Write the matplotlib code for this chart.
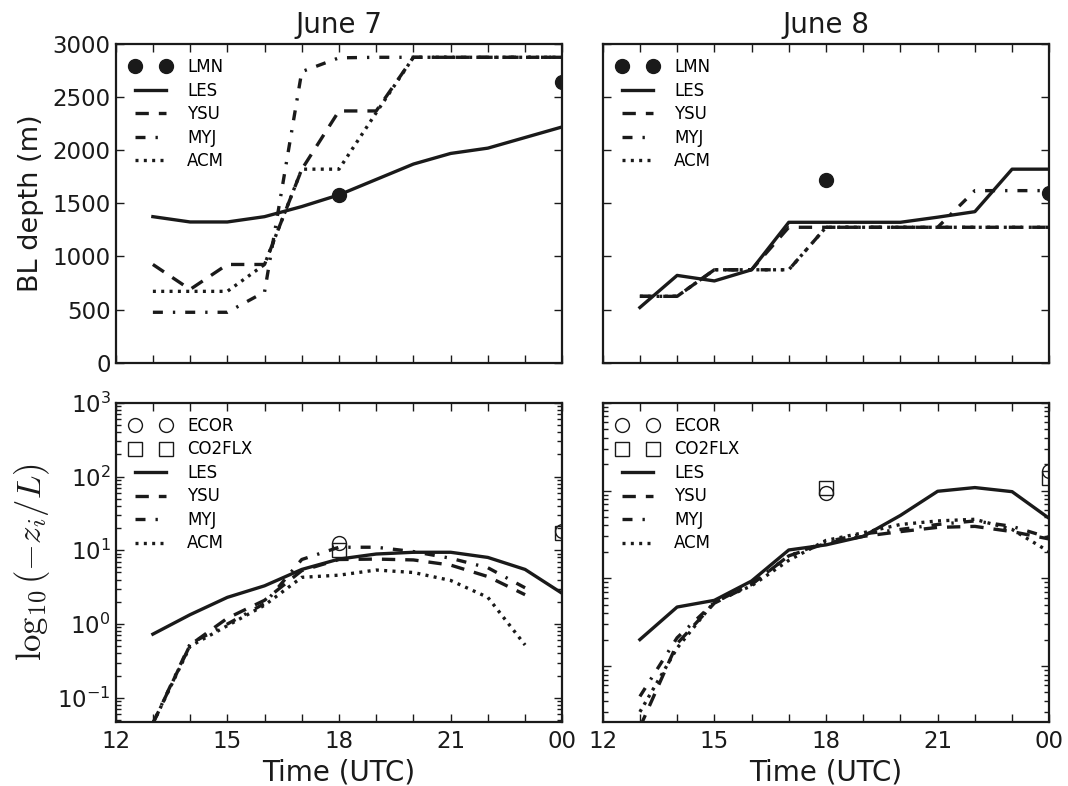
import numpy as np
import matplotlib
matplotlib.use('Agg')
import matplotlib.pyplot as plt
from matplotlib.ticker import LogLocator, NullFormatter

plt.rcParams['mathtext.fontset'] = 'cm'
plt.rcParams['axes.unicode_minus'] = False

hours = [13, 14, 15, 16, 17, 18, 19, 20, 21, 22, 23, 24]
obs_hours = [18, 24]
xtick_labels = ['12', '', '', '15', '', '', '18', '', '', '21', '', '', '00']

# boundary layer depth (m)
lmn7 = [1580, 2640]
les7_bl = [1375, 1325, 1325, 1375, 1470, 1580, 1725, 1870, 1970, 2020, 2120, 2220]
ysu7_bl = [925, 690, 925, 925, 1820, 2370, 2370, 2875, 2875, 2875, 2875, 2875]
myj7_bl = [475, 475, 475, 666, 2740, 2870, 2875, 2875, 2875, 2875, 2875, 2875]
acm7_bl = [672, 672, 672, 925, 1822, 1822, 2353, 2875, 2875, 2875, 2875, 2875]

lmn8 = [1720, 1600]
les8_bl = [520, 822, 770, 875, 1322, 1322, 1322, 1322, 1370, 1422, 1822, 1822]
ysu8_bl = [625, 625, 875, 875, 1275, 1275, 1275, 1275, 1275, 1275, 1275, 1275]
myj8_bl = [625, 625, 875, 875, 875, 1275, 1275, 1275, 1275, 1620, 1620, 1620]
acm8_bl = [625, 625, 875, 875, 875, 1275, 1275, 1275, 1275, 1275, 1275, 1275]

# -z_i/L
ecor7 = [12.6, 18.5]
co2flx7 = [10.2, 17.0]
les7_zl = [0.73, 1.34, 2.3, 3.3, 5.5, 7.6, 8.9, 9.4, 9.4, 8.0, 5.5, 2.6]
ysu7_zl = [0.045, 0.52, 1.2, 2.1, 5.3, 7.5, 7.6, 7.4, 6.3, 4.4, 2.5, np.nan]
myj7_zl = [0.045, 0.54, 1.0, 1.9, 7.5, 11.0, 11.0, 9.6, 7.8, 5.8, 3.1, np.nan]
acm7_zl = [0.045, 0.5, 0.95, 1.8, 4.3, 4.6, 5.4, 5.0, 3.9, 2.3, 0.52, np.nan]

ecor8 = [94, 166]
co2flx8 = [108, 140]
les8_zl = [2.0, 4.7, 5.6, 9.3, 21, 24, 30, 52, 98, 108, 97, 48]
ysu8_zl = [0.2, 1.8, 5.2, 8.5, 18, 25, 30, 34, 38, 39, 34, 28]
myj8_zl = [0.45, 2.1, 5.3, 8.6, 18, 26, 32, 36, 41, 45, 39, 29]
acm8_zl = [0.3, 1.6, 5.4, 8.2, 16, 27, 33, 41, 45, 47, 36, 20]

ink = '#1a1a1a'
lw = 2.4
styles = {'LES': '-', 'YSU': (0, (4, 3)), 'MYJ': (0, (3, 3, 0.7, 3)), 'ACM': (0, (0.9, 1.6))}

fig = plt.figure(figsize=(10.68, 7.86), dpi=100)
L1, L2, W = 0.1083, 0.5643, 0.4182
ax_tl = fig.add_axes([L1, 0.5385, W, 0.4055])
ax_tr = fig.add_axes([L2, 0.5385, W, 0.4055])
ax_bl = fig.add_axes([L1, 0.0814, W, 0.4062])
ax_br = fig.add_axes([L2, 0.0814, W, 0.4062])


def style_axes(ax):
    for s in ax.spines.values():
        s.set_linewidth(1.6)
        s.set_color(ink)
    ax.tick_params(which='both', direction='in', top=True, right=True,
                   colors=ink, labelsize=16.5, width=1.0)
    ax.tick_params(which='major', length=6)
    ax.tick_params(which='minor', length=3.5)
    ax.tick_params(axis='x', pad=6)
    ax.set_xlim(12, 24)
    ax.set_xticks(range(12, 25))
    ax.set_xticklabels(xtick_labels)


def draw_models(ax, series):
    for name, vals in series:
        ax.plot(hours, vals, color=ink, lw=lw, linestyle=styles[name], label=name)


leg_kw = dict(loc='upper left', frameon=False, numpoints=2, fontsize=12,
              handlelength=2.45, labelspacing=0.33, handletextpad=1.0,
              borderaxespad=0.45)

# top row: BL depth
for ax, lmn, series in [
        (ax_tl, lmn7, [('LES', les7_bl), ('YSU', ysu7_bl), ('MYJ', myj7_bl), ('ACM', acm7_bl)]),
        (ax_tr, lmn8, [('LES', les8_bl), ('YSU', ysu8_bl), ('MYJ', myj8_bl), ('ACM', acm8_bl)])]:
    ax.plot(obs_hours, lmn, 'o', color=ink, ms=10, label='LMN')
    draw_models(ax, series)
    style_axes(ax)
    ax.set_ylim(0, 3000)
    ax.set_yticks(range(0, 3001, 500))
    ax.tick_params(labelbottom=False)
    ax.legend(**leg_kw)

ax_tl.set_ylabel('BL depth (m)', fontsize=19.5, color=ink, labelpad=6)
ax_tr.tick_params(labelleft=False)
ax_tl.set_title('June 7', fontsize=20, color=ink, pad=8)
ax_tr.set_title('June 8', fontsize=20, color=ink, pad=8)

# bottom row: stability
for ax, ec, co, series, ylo in [
        (ax_bl, ecor7, co2flx7, [('LES', les7_zl), ('YSU', ysu7_zl), ('MYJ', myj7_zl), ('ACM', acm7_zl)], 0.047),
        (ax_br, ecor8, co2flx8, [('LES', les8_zl), ('YSU', ysu8_zl), ('MYJ', myj8_zl), ('ACM', acm8_zl)], 0.23)]:
    ax.plot(obs_hours, ec, 'o', mfc='none', mec=ink, mew=1.0, ms=10, label='ECOR')
    ax.plot(obs_hours, co, 's', mfc='none', mec=ink, mew=1.0, ms=10, label='CO2FLX')
    draw_models(ax, series)
    ax.set_yscale('log')
    ax.set_ylim(ylo, 1000)
    ax.yaxis.set_major_locator(LogLocator(base=10, numticks=10))
    ax.yaxis.set_minor_locator(LogLocator(base=10, subs=np.arange(2, 10), numticks=20))
    ax.yaxis.set_minor_formatter(NullFormatter())
    style_axes(ax)
    ax.set_xlabel('Time (UTC)', fontsize=20, color=ink, labelpad=4)
    ax.legend(**leg_kw)

ax_bl.set_ylabel(r'$\log_{10}(-z_i/L)$', fontsize=25, color=ink, labelpad=4)
ax_br.tick_params(labelleft=False)

fig.savefig('out.png', dpi=100)
